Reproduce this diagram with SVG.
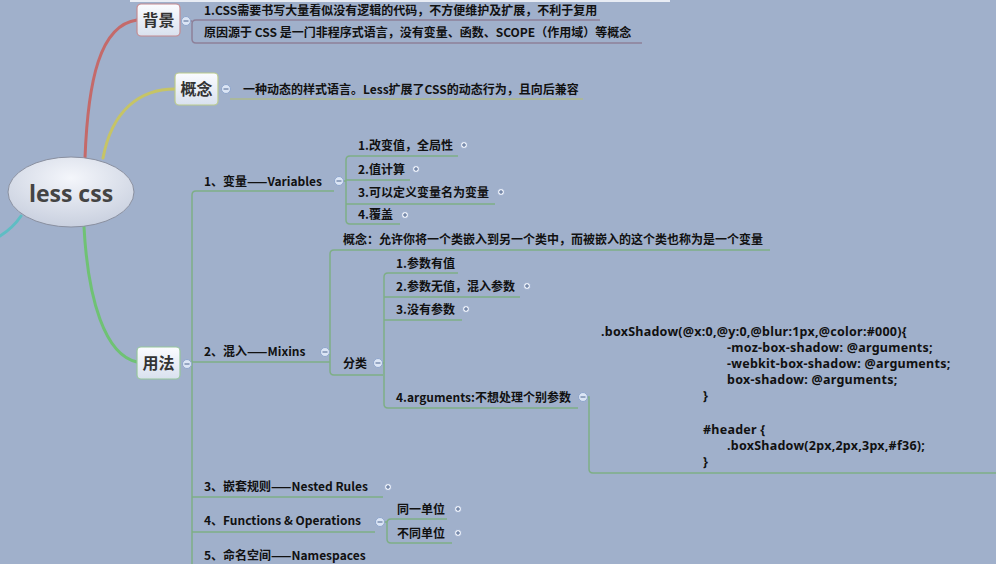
<svg xmlns="http://www.w3.org/2000/svg" width="996" height="564" viewBox="0 0 996 564">
<defs>
<linearGradient id="nodeFill" x1="0" y1="0" x2="0" y2="1">
<stop offset="0" stop-color="#fbfcff"/>
<stop offset="1" stop-color="#d9e1ee"/>
</linearGradient>
<radialGradient id="centerFill" cx="0.5" cy="0.3" r="0.7">
<stop offset="0" stop-color="#f4f6fb"/>
<stop offset="1" stop-color="#c9d0df"/>
</radialGradient>
</defs>
<style>
.t{font-family:"Noto Sans CJK SC","Noto Sans",sans-serif;font-weight:bold;font-size:12px;fill:#111}
.code{font-family:"Noto Sans","Liberation Sans",sans-serif;font-weight:bold;font-size:12.5px;letter-spacing:0.25px;fill:#111}
.nl{font-family:"Noto Sans CJK SC","Noto Sans",sans-serif;font-weight:bold;font-size:16px;fill:#333;text-anchor:middle}
.node{fill:url(#nodeFill);stroke-width:1.2}
.ln{fill:none;stroke-width:1.5}
.lr{stroke:#8d8099}
.ly{stroke:#aebb8c}
.lg{stroke:#7eae86}
.minus{fill:#dbe5f5;stroke:#8fa6cc;stroke-width:1}
.plus{fill:#eef2fa;stroke:#93a6c8;stroke-width:0.8}
.sign{stroke:#4f6690;stroke-width:1}
.branch{fill:none;stroke-linecap:round}
</style>
<rect width="996" height="564" fill="#a0b0cb"/>
<rect x="130" y="0" width="540" height="2" fill="#e8ecf4"/>

<g id="connectors">
<path class="branch" d="M85 158 C88 80 100 25 137 20" stroke="#c46a6a" stroke-width="3"/>
<path class="branch" d="M103 158 C112 110 140 89 175 89" stroke="#c6c466" stroke-width="3"/>
<path class="branch" d="M84 227 C88 300 105 355 137 362" stroke="#6fc274" stroke-width="3"/>
<path class="branch" d="M21 216 C15 225 8 231 0 236" stroke="#5fbdc4" stroke-width="3"/>

<path class="ln lr" d="M190 21 H192 M600 20 H196 Q192 20 192 24 V39 Q192 43 196 43 H642"/>
<path class="ln ly" d="M230 99 H583"/>
<path class="ln lg" d="M191 364 H192 M334 191 H196 Q192 191 192 195 V564"/>
<path class="ln lg" d="M344 181 H346 M458 156 H350 Q346 156 346 160 V220 Q346 224 350 224 H400 M346 180 H410 M346 204 H495"/>
<path class="ln lg" d="M192 362 H330 M770 250 H334 Q330 250 330 254 V371 Q330 375 334 375 H383"/>
<path class="ln lg" d="M382 363 H384 M458 273 H388 Q384 273 384 277 V404 Q384 408 388 408 H578 M384 297 H520 M384 320 H462"/>
<path class="ln lg" d="M587 397 H589 V469 Q589 473 593 473 H996"/>
<path class="ln lg" d="M192 497 H383 M192 532 H375"/>
<path class="ln lg" d="M384 522 H387 M447 519 H391 Q387 519 387 523 V539 Q387 543 391 543 H452"/>
</g>

<g id="center">
<ellipse cx="71" cy="192" rx="63" ry="35" fill="url(#centerFill)" stroke="#8a90a0" stroke-width="1"/>
<text x="71" y="202" text-anchor="middle" style="font-family:'Open Sans','Noto Sans',sans-serif;font-weight:bold;font-size:23px;fill:#444">less css</text>
</g>

<g id="beijing">
<rect class="node" x="137" y="4" width="43" height="32" rx="4" stroke="#c48a90"/>
<text class="nl" x="158.5" y="26">背景</text>
<circle class="minus" cx="186" cy="21" r="4.5"/><path class="sign" d="M183.5 21 H188.5"/>
</g>
<g id="bj1"><text class="t" x="204" y="15">1.CSS需要书写大量看似没有逻辑的代码，不方便维护及扩展，不利于复用</text></g>
<g id="bj2"><text class="t" x="204" y="37">原因源于 CSS 是一门非程序式语言，没有变量、函数、SCOPE（作用域）等概念</text></g>

<g id="gainian">
<rect class="node" x="175" y="73" width="43" height="32" rx="4" stroke="#bccb8c"/>
<text class="nl" x="196.5" y="95">概念</text>
<circle class="minus" cx="226" cy="89" r="4.5"/><path class="sign" d="M223.5 89 H228.5"/>
</g>
<g id="gn1"><text class="t" x="243" y="94">一种动态的样式语言。Less扩展了CSS的动态行为，且向后兼容</text></g>

<g id="yongfa">
<rect class="node" x="137" y="347" width="43" height="32" rx="4" stroke="#96c69c"/>
<text class="nl" x="158.5" y="369">用法</text>
<circle class="minus" cx="187" cy="364" r="4.5"/><path class="sign" d="M184.5 364 H189.5"/>
</g>

<g id="variables">
<text class="t" x="204" y="186">1、变量——Variables</text>
<circle class="minus" cx="339" cy="181" r="4.5"/><path class="sign" d="M336.5 181 H341.5"/>
</g>
<g id="v1"><text class="t" x="358" y="150">1.改变值，全局性</text><circle class="plus" cx="464" cy="145" r="3.5"/><path class="sign" d="M462 145 H466 M464 143 V147"/></g>
<g id="v2"><text class="t" x="358" y="174">2.值计算</text><circle class="plus" cx="416" cy="169" r="3.5"/><path class="sign" d="M414 169 H418 M416 167 V171"/></g>
<g id="v3"><text class="t" x="358" y="197">3.可以定义变量名为变量</text><circle class="plus" cx="501" cy="192" r="3.5"/><path class="sign" d="M499 192 H503 M501 190 V194"/></g>
<g id="v4"><text class="t" x="358" y="219">4.覆盖</text><circle class="plus" cx="405" cy="215" r="3.5"/><path class="sign" d="M403 215 H407 M405 213 V217"/></g>

<g id="mixins">
<text class="t" x="204" y="356">2、混入——Mixins</text>
<circle class="minus" cx="325" cy="352" r="4.5"/><path class="sign" d="M322.5 352 H327.5"/>
</g>
<g id="m1"><text class="t" x="343" y="244">概念：允许你将一个类嵌入到另一个类中，而被嵌入的这个类也称为是一个变量</text></g>
<g id="fenlei">
<text class="t" x="343" y="368">分类</text>
<circle class="minus" cx="378" cy="363" r="4.5"/><path class="sign" d="M375.5 363 H380.5"/>
</g>
<g id="f1"><text class="t" x="396" y="268">1.参数有值</text></g>
<g id="f2"><text class="t" x="396" y="291">2.参数无值，混入参数</text><circle class="plus" cx="527" cy="286" r="3.5"/><path class="sign" d="M525 286 H529 M527 284 V288"/></g>
<g id="f3"><text class="t" x="396" y="314">3.没有参数</text><circle class="plus" cx="466" cy="309" r="3.5"/><path class="sign" d="M464 309 H468 M466 307 V311"/></g>
<g id="f4">
<text class="t" x="396" y="402">4.arguments:不想处理个别参数</text>
<circle class="minus" cx="583" cy="397" r="4.5"/><path class="sign" d="M580.5 397 H585.5"/>
</g>
<g id="code">
<text class="code" x="601" y="336">.boxShadow(@x:0,@y:0,@blur:1px,@color:#000){</text>
<text class="code" x="727" y="352">-moz-box-shadow: @arguments;</text>
<text class="code" x="727" y="368">-webkit-box-shadow: @arguments;</text>
<text class="code" x="727" y="384">box-shadow: @arguments;</text>
<text class="code" x="703" y="400">}</text>
<text class="code" x="703" y="434">#header {</text>
<text class="code" x="727" y="450">.boxShadow(2px,2px,3px,#f36);</text>
<text class="code" x="703" y="466">}</text>
</g>

<g id="nested"><text class="t" x="204" y="491">3、嵌套规则——Nested Rules</text><circle class="plus" cx="388" cy="487" r="3.5"/><path class="sign" d="M386 487 H390 M388 485 V489"/></g>
<g id="functions">
<text class="t" x="204" y="525">4、Functions &amp; Operations</text>
<circle class="minus" cx="380" cy="522" r="4.5"/><path class="sign" d="M377.5 522 H382.5"/>
</g>
<g id="fn1"><text class="t" x="397" y="514">同一单位</text><circle class="plus" cx="458" cy="509" r="3.5"/><path class="sign" d="M456 509 H460 M458 507 V511"/></g>
<g id="fn2"><text class="t" x="397" y="538">不同单位</text><circle class="plus" cx="458" cy="533" r="3.5"/><path class="sign" d="M456 533 H460 M458 531 V535"/></g>
<g id="namespaces"><text class="t" x="204" y="560">5、命名空间——Namespaces</text></g>
</svg>
